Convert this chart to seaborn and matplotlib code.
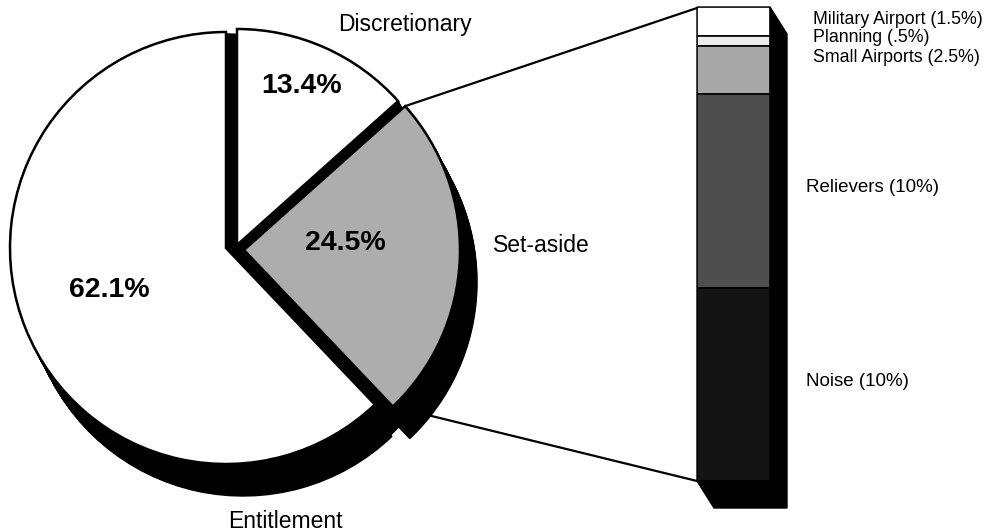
import numpy as np
import matplotlib
matplotlib.use("Agg")
import matplotlib.pyplot as plt
from matplotlib.patches import Wedge, Polygon, Circle
import seaborn as sns

# ---------------- data ----------------
pie_labels = ["Discretionary", "Set-aside", "Entitlement"]
pie_values = [13.4, 24.5, 62.1]
pie_pct_text = ["13.4%", "24.5%", "62.1%"]

bar_labels = ["Military Airport (1.5%)", "Planning (.5%)", "Small Airports (2.5%)",
              "Relievers (10%)", "Noise (10%)"]
bar_values = [1.5, 0.5, 2.5, 10.0, 10.0]

# ---------------- style ----------------
sns.set_theme(style="white")
plt.rcParams["font.family"] = ["Liberation Sans", "DejaVu Sans"]
plt.rcParams["text.color"] = "black"

W, H = 991, 531
fig = plt.figure(figsize=(W / 100, H / 100), dpi=100)
fig.patch.set_facecolor("white")

# main axes in pixel-like units (y up)
ax = fig.add_axes([0, 0, 1, 1])
ax.set_xlim(0, W)
ax.set_ylim(0, H)
ax.set_aspect("equal")
ax.axis("off")

def sy(y):  # screen y -> axis y
    return H - y

# ---------------- pie ----------------
pie_colors = ["white", "#adadad", "white"]
base_center = (226, sy(248))
centers = {"Discretionary": (237, sy(245)),
           "Set-aside": (244, sy(250)),
           "Entitlement": (226, sy(248))}
R = 216
depth = np.array([17.0, -32.0])

total = sum(pie_values)
# Discretionary runs clockwise from 12 o'clock, then Set-aside, then Entitlement
angles = {}
start = 90.0
for lab, v in zip(pie_labels, pie_values):
    sweep = 360.0 * v / total
    angles[lab] = (start - sweep, start)
    start -= sweep

# connector lines (behind pie)
bar_left, bar_right = 697, 770
bar_top, bar_bot = 7, 481
sa_c = np.array(centers["Set-aside"])
a1, a2 = angles["Set-aside"]
p_top = sa_c + R * np.array([np.cos(np.radians(a2)), np.sin(np.radians(a2))])
p_bot = sa_c + R * np.array([np.cos(np.radians(a1)), np.sin(np.radians(a1))])
ax.plot([p_top[0], bar_left], [p_top[1], sy(bar_top + 1)], color="black", lw=1.6, zorder=0.5)
ax.plot([p_bot[0], bar_left], [p_bot[1], sy(bar_bot)], color="black", lw=1.6, zorder=0.5)

# extrusion (3-D depth): base disc plus every slice
for t in np.linspace(0, 1, 50):
    off = t * depth
    ax.add_patch(Circle(tuple(np.array(base_center) + off), R - 2, facecolor="black",
                        edgecolor="black", lw=1, zorder=1))
    for lab in pie_labels:
        c = np.array(centers[lab]) + off
        th1, th2 = angles[lab]
        ax.add_patch(Wedge(tuple(c), R, th1, th2, facecolor="black",
                           edgecolor="black", lw=1, zorder=1))

# top faces
for lab, col in zip(pie_labels, pie_colors):
    th1, th2 = angles[lab]
    ax.add_patch(Wedge(centers[lab], R, th1, th2, facecolor=col,
                       edgecolor="black", lw=1.8, zorder=3))

# pie texts
ax.text(405, sy(25), "Discretionary", fontsize=16.5, ha="center", va="center", zorder=5)
ax.text(541, sy(245), "Set-aside", fontsize=16.5, ha="center", va="center", zorder=5)
ax.text(285, sy(521), "Entitlement", fontsize=16.5, ha="center", va="center", zorder=5)
ax.text(302, sy(86), pie_pct_text[0], fontsize=20.5, fontweight="bold", ha="center", va="center", zorder=5)
ax.text(345, sy(243), pie_pct_text[1], fontsize=20.5, fontweight="bold", ha="center", va="center", zorder=5)
ax.text(109, sy(290), pie_pct_text[2], fontsize=20.5, fontweight="bold", ha="center", va="center", zorder=5)

# ---------------- stacked bar ----------------
bdepth = np.array([17.0, -27.0])
face = np.array([[bar_left, sy(bar_top)], [bar_right, sy(bar_top)],
                 [bar_right, sy(bar_bot)], [bar_left, sy(bar_bot)]])
ext = np.vstack([face[0], face[1], face[1] + bdepth, face[2] + bdepth,
                 face[3] + bdepth, face[3]])
ax.add_patch(Polygon(ext, closed=True, facecolor="black", edgecolor="black", lw=1, zorder=1))

bax = fig.add_axes([bar_left / W, (H - bar_bot) / H, (bar_right - bar_left) / W,
                    (bar_bot - bar_top) / H])
bar_colors = ["white", "#ececec", "#a8a8a8", "#4e4e4e", "#141414"]
bottoms = np.concatenate([[0], np.cumsum(bar_values)[:-1]])
bax.bar(np.zeros(len(bar_values)), bar_values, bottom=bottoms, width=1.0,
        color=bar_colors, edgecolor="black", linewidth=1.2)
bax.set_xlim(-0.5, 0.5)
bax.set_ylim(sum(bar_values), 0)
bax.axis("off")

# bar labels
label_pos = [(813, 19), (813, 38), (813, 57), (806, 188), (806, 381)]
label_sizes = [12.8, 12.8, 12.8, 13.5, 13.5]
for lab, (x, y), fs in zip(bar_labels, label_pos, label_sizes):
    ax.text(x, sy(y), lab, fontsize=fs, ha="left", va="center", zorder=5)

fig.savefig("out.png", dpi=100, facecolor="white")
